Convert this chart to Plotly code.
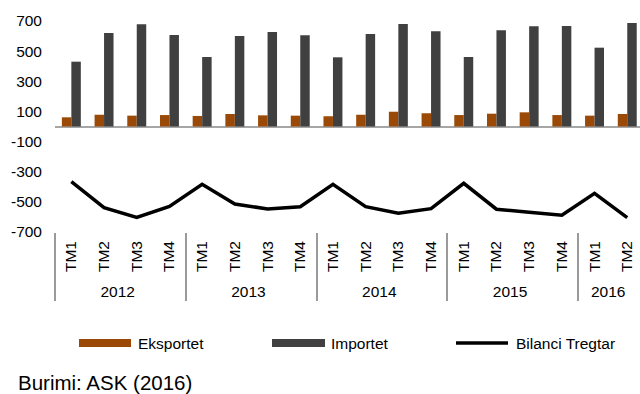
import plotly.graph_objects as go

years = ["2012"] * 4 + ["2013"] * 4 + ["2014"] * 4 + ["2015"] * 4 + ["2016"] * 2
quarters = ["TM1", "TM2", "TM3", "TM4"] * 4 + ["TM1", "TM2"]
eksportet = [61, 78, 72, 76, 70, 83, 74, 72, 68, 78, 98, 88, 76, 85, 94, 76, 72, 83]
importet = [430, 620, 678, 607, 461, 600, 627, 605, 459, 614, 680, 632, 461, 638, 665, 667, 523, 687]
bilanci = [-366, -539, -603, -530, -384, -514, -547, -532, -384, -532, -576, -545, -377, -549, -569, -589, -443, -605]
y_ticks = [-700, -500, -300, -100, 100, 300, 500, 700]
y_ticktext = ["-700", "-500", "-300", "-100", "100", "300", "500", "700"]

W, H = 640, 394
L, T, B = 55, 21, 232
FONT = "Liberation Sans, Arial, sans-serif"

x = [years, quarters]
fig = go.Figure()
fig.add_trace(go.Bar(x=x, y=eksportet, name="Eksportet", marker=dict(color="#9A4A06", line=dict(width=0))))
fig.add_trace(go.Bar(x=x, y=importet, name="Importet", marker=dict(color="#404040", line=dict(width=0))))
fig.add_trace(go.Scatter(x=x, y=bilanci, name="Bilanci Tregtar", mode="lines",
                         line=dict(color="#000000", width=3.5)))

span = (W - L) / 32.7
fig.update_layout(
    width=W, height=H,
    margin=dict(l=L, r=0, t=T, b=H - B, pad=0),
    paper_bgcolor="white", plot_bgcolor="white",
    barmode="group", bargap=0.42, bargroupgap=0,
    showlegend=False,
    font=dict(family=FONT, size=15.5, color="#000000"),
)
fig.update_xaxes(
    type="multicategory",
    range=[-0.5, -0.5 + span],
    showgrid=False, showline=False, ticks="",
    tickangle=-90,
    ticklabelstandoff=5,
    showdividers=True, dividercolor="#9a9a9a", dividerwidth=2,
    tickfont=dict(size=15.5, color="#000000"),
)
fig.update_yaxes(
    range=[-700, 700],
    tickvals=y_ticks, ticktext=y_ticktext,
    showgrid=False, showline=False, ticks="",
    ticklabelstandoff=12,
    zeroline=True, zerolinecolor="#a6a6a6", zerolinewidth=2,
    tickfont=dict(size=15.5, color="#000000"),
)

def px(xp):
    return (xp - L) / (W - L)

def py(yp):
    return (B - yp) / (B - T)

legend_items = [
    ("Eksportet", "#9A4A06", 79, 131, 136, "rect"),
    ("Importet", "#404040", 272, 325, 329, "rect"),
    ("Bilanci Tregtar", "#000000", 456, 508, 514, "line"),
]
ly = 343
for label, color, x0, x1, tx, kind in legend_items:
    if kind == "rect":
        fig.add_shape(type="rect", xref="paper", yref="paper",
                      x0=px(x0), x1=px(x1), y0=py(ly + 4), y1=py(ly - 4),
                      fillcolor=color, line=dict(width=0))
    else:
        fig.add_shape(type="line", xref="paper", yref="paper",
                      x0=px(x0), x1=px(x1), y0=py(ly), y1=py(ly),
                      line=dict(color=color, width=3.5))
    fig.add_annotation(text=label, xref="paper", yref="paper", x=px(tx), y=py(ly),
                       xanchor="left", yanchor="middle", showarrow=False,
                       font=dict(size=15.5, color="#000000", family=FONT))

fig.add_annotation(text="Burimi: ASK (2016)", xref="paper", yref="paper",
                   x=px(16), y=py(382), xanchor="left", yanchor="middle",
                   showarrow=False, font=dict(size=20.5, color="#000000", family=FONT))

fig.write_html("out.html")
